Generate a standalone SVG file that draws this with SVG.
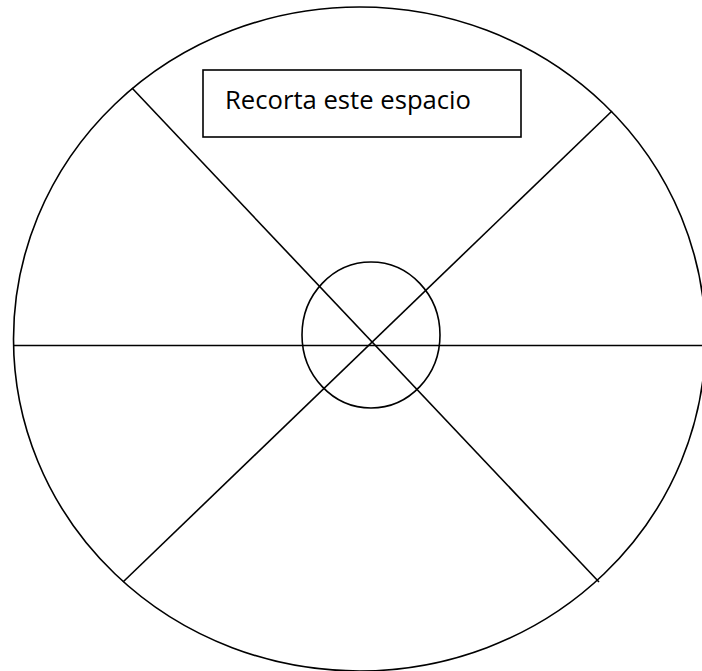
<svg xmlns="http://www.w3.org/2000/svg" width="702" height="671" viewBox="0 0 702 671">
<style>
.s{fill:none;stroke:#000;stroke-width:1.6}
.t{font-family:"Open Sans","Liberation Sans",sans-serif;font-size:26px;fill:#000}
</style>
<rect width="702" height="671" fill="#fff"/>
<g id="outer"><ellipse class="s" cx="359.5" cy="339" rx="346" ry="332"/></g>
<g id="connectors">
<line class="s" x1="14" y1="345.5" x2="702" y2="345.5"/>
<line class="s" x1="132" y1="88" x2="599" y2="582"/>
<line class="s" x1="612" y1="111" x2="123" y2="582"/>
</g>
<g id="center"><ellipse class="s" cx="371" cy="335" rx="69" ry="73"/></g>
<g id="label">
<rect class="s" x="203" y="70" width="318" height="67" fill="#fff"/>
<text class="t" x="225" y="109" textLength="246" lengthAdjust="spacingAndGlyphs">Recorta este espacio</text>
</g>
</svg>
